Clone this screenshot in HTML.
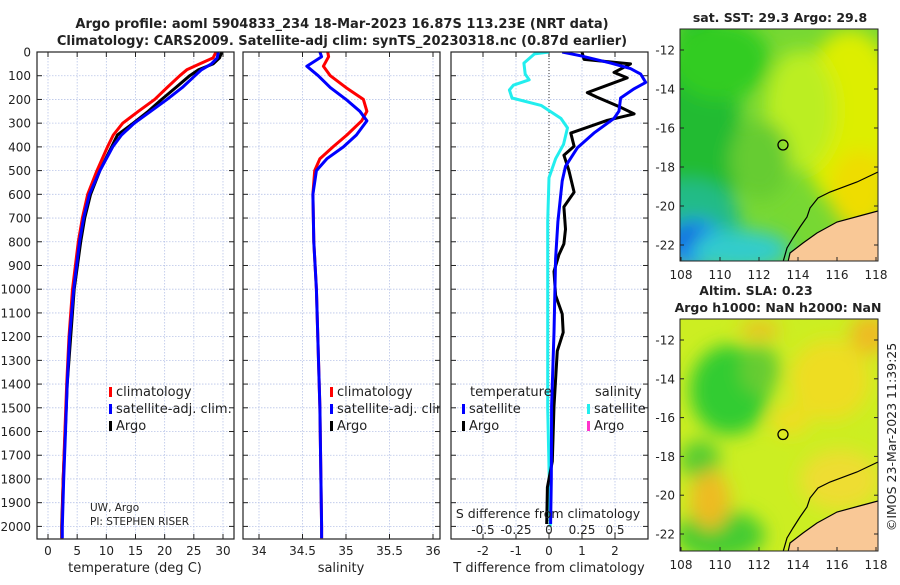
<!DOCTYPE html>
<html><head><meta charset="utf-8">
<style>
html,body{margin:0;padding:0;background:#fff;}
body{width:900px;height:580px;overflow:hidden;font-family:"Liberation Sans","DejaVu Sans",sans-serif;}
svg text{font-family:"DejaVu Sans","Liberation Sans",sans-serif;}
</style></head>
<body>
<svg id="fig" width="900" height="580" viewBox="0 0 900 580" xmlns="http://www.w3.org/2000/svg">
<defs>
<filter id="blur8" x="-50%" y="-50%" width="200%" height="200%"><feGaussianBlur stdDeviation="9"/></filter>
<clipPath id="clipTop"><rect x="680" y="29" width="198" height="232"/></clipPath>
<clipPath id="clipBot"><rect x="680" y="319" width="198" height="232"/></clipPath>
<clipPath id="c1"><rect x="37" y="52" width="197" height="487"/></clipPath>
<clipPath id="c2"><rect x="243" y="52" width="197" height="487"/></clipPath>
<clipPath id="c3"><rect x="451" y="52" width="197" height="487"/></clipPath>
</defs>
<g id="layer"></g>
</svg>
<script>
// ---- data ----
const tDepths = [0,25,50,75,100,150,200,250,300,350,400,500,600,700,800,1000,1200,1400,1600,1800,2000,2050];
const tClim = [28.8,28.3,26.0,23.8,22.6,20.4,18.3,15.5,12.8,11.2,10.2,8.4,6.8,5.9,5.2,4.2,3.6,3.2,2.9,2.6,2.4,2.4];
const tSat = [29.2,29.0,28.0,26.3,25.2,23.0,20.4,17.6,14.8,12.6,11.1,8.9,7.1,6.1,5.4,4.4,3.7,3.3,3.0,2.7,2.45,2.45];
const tArgo = [29.8,29.4,28.3,25.8,24.3,21.9,19.5,17.2,14.6,11.9,10.9,8.9,7.3,6.3,5.6,4.5,3.9,3.3,2.95,2.6,2.35,2.35];
const sDepths = [0,20,60,100,150,200,250,290,350,400,450,500,600,800,1000,1500,2000,2050];
const sClim = [34.79,34.80,34.74,34.82,35.0,35.20,35.24,35.18,35.01,34.85,34.70,34.64,34.62,34.63,34.66,34.70,34.72,34.72];
const sSat = [34.70,34.72,34.55,34.68,34.82,35.0,35.16,35.24,35.12,34.97,34.78,34.66,34.62,34.63,34.66,34.70,34.72,34.72];
const dSatDepths = [0,16,47,70,93,128,155,194,249,280,342,404,482,544,715,871,1182,1493,1804,1990];
const dTSat = [0.4,0.96,1.87,2.47,2.78,2.93,2.58,2.17,2.12,1.97,1.36,0.86,0.5,0.4,0.27,0.2,0.15,0.08,0.07,0.05];
const dArgoDepths = [0,31,50,86,109,140,171,190,233,261,288,342,397,435,498,591,653,747,809,855,925,1026,1104,1182,1260,1493,1726,1835,1990];
const dTArgo = [1.0,1.06,2.47,1.97,2.37,1.77,1.16,1.45,2.17,2.58,1.77,0.66,0.76,0.45,0.6,0.76,0.45,0.5,0.45,0.3,0.15,0.2,0.4,0.43,0.25,0.15,0.1,-0.05,-0.07];
const dSDepths = [0,8,47,93,117,140,160,194,225,280,320,390,450,530,715,1000,1500,2000];
const dSSat = [0,-0.11,-0.19,-0.18,-0.15,-0.27,-0.30,-0.28,-0.06,0.09,0.14,0.11,0.05,0,-0.01,-0.01,-0.01,0.01];
const depthTicks = [0,100,200,300,400,500,600,700,800,900,1000,1100,1200,1300,1400,1500,1600,1700,1800,1900,2000];
const tTicks = [0,5,10,15,20,25,30];
const sTicks = [34,34.5,35,35.5,36];
const sTickLabels = ["34","34.5","35","35.5","36"];
const dTTicks = [-2,-1,0,1,2];
const dSTicks = [-0.5,-0.25,0,0.25,0.5];
const dSTickLabels = ["-0.5","-0.25","0","0.25","0.5"];
const lonTicks = [108,110,112,114,116,118];
const latTicks = [-12,-14,-16,-18,-20,-22];
const argoLon = [113.23];
const argoLat = [-16.87];

// ---- axes ----
const yD = d => 52 + d*0.2372;
const x1 = t => 48 + t*5.833;
const x2 = s => 259 + (s-34)*87;
const x3 = t => 549 + t*33;
const x3s = s => 549 + s*132;
const lonX = lo => 681 + (lo-108)*19.5;
const latYt = la => 50 + (-12-la)*19.5;
const latYb = la => 340 + (-12-la)*19.4;

const NS='http://www.w3.org/2000/svg';
const layer=document.getElementById('layer');
function mk(tag, attrs, parent){const el=document.createElementNS(NS,tag);for(const k in attrs)el.setAttribute(k,attrs[k]);(parent||layer).appendChild(el);return el;}
function txt(x,y,s,size,anchor,weight,parent){const el=mk('text',{x:x,y:y,'font-size':size,'text-anchor':anchor||'start','font-weight':weight||'normal',fill:'#222'},parent);el.textContent=s;return el;}

let e;
e=txt(342,28,'Argo profile: aoml 5904833_234 18-Mar-2023 16.87S 113.23E (NRT data)',13,'middle','bold');


e=txt(342,45,'Climatology: CARS2009. Satellite-adj clim: synTS_20230318.nc (0.87d earlier)',13,'middle','bold');



const panels=[{x:37,clip:'c1',name:'temperature-panel'},{x:243,clip:'c2',name:'salinity-panel'},{x:451,clip:'c3',name:'difference-panel'}];
const PW=197, pTop=52, pBot=539;
panels.forEach((p)=>{
  const g=mk('g',{});
  
  
  p.g=g;
  depthTicks.forEach(d=>{
    const yy=yD(d);
    const gl=mk('line',{x1:p.x,x2:p.x+PW,y1:yy,y2:yy,stroke:'#b8c4e8','stroke-width':0.8,'stroke-dasharray':'1.5,1.5'},g);
    
    
    mk('line',{x1:p.x,x2:p.x+5,y1:yy,y2:yy,stroke:'#222'},g);
    mk('line',{x1:p.x+PW-5,x2:p.x+PW,y1:yy,y2:yy,stroke:'#222'},g);
  });
});
depthTicks.forEach(d=>{
  const t=txt(31,yD(d)+4.5,String(d),12,'end');
  
  
});
function xgrid(g,xs,fn,labels,ly){
  xs.forEach((v,i)=>{
    const xx=fn(v);
    const gl=mk('line',{x1:xx,x2:xx,y1:pTop,y2:pBot,stroke:'#b8c4e8','stroke-width':0.8,'stroke-dasharray':'1.5,1.5'},g);
    
    
    mk('line',{x1:xx,x2:xx,y1:pBot-5,y2:pBot,stroke:'#222'},g);
    mk('line',{x1:xx,x2:xx,y1:pTop,y2:pTop+5,stroke:'#222'},g);
    const t=txt(xx,ly,labels[i],12,'middle');
    
    
  });
}
xgrid(panels[0].g,tTicks,x1,tTicks.map(String),555);
xgrid(panels[1].g,sTicks,x2,sTickLabels,555);
xgrid(panels[2].g,dTTicks,x3,dTTicks.map(String),555);
const zl=mk('line',{x1:x3(0),x2:x3(0),y1:pTop,y2:pBot,stroke:'#333','stroke-width':1,'stroke-dasharray':'1,2'},panels[2].g);



function line(g,xs,ds,fx,color,w,name,clip){
  const pts=xs.map((v,i)=>fx(v).toFixed(1)+','+yD(ds[i]).toFixed(1)).join(' ');
  const pl=mk('polyline',{points:pts,fill:'none',stroke:color,'stroke-width':w,'stroke-linejoin':'round','clip-path':'url(#'+clip+')'},g);
  
  
}
line(panels[0].g,tArgo,tDepths,x1,'#000',3,'argo-temperature-line','c1');
line(panels[0].g,tClim,tDepths,x1,'#ff0000',3,'climatology-temperature-line','c1');
line(panels[0].g,tSat,tDepths,x1,'#0000ff',3,'satellite-temperature-line','c1');
line(panels[1].g,sClim,sDepths,x2,'#ff0000',3,'climatology-salinity-line','c2');
line(panels[1].g,sSat,sDepths,x2,'#0000ff',3,'satellite-salinity-line','c2');
line(panels[2].g,dSSat,dSDepths,x3s,'#22eeee',3,'salinity-satellite-diff-line','c3');
line(panels[2].g,dTArgo,dArgoDepths,x3,'#000',3,'temperature-argo-diff-line','c3');
line(panels[2].g,dTSat,dSatDepths,x3,'#0000ff',3,'temperature-satellite-diff-line','c3');
panels.forEach(p=>{
  const r=mk('rect',{x:p.x,y:pTop,width:PW,height:pBot-pTop,fill:'none',stroke:'#222','stroke-width':1.2},p.g);
  
  
});
dSTicks.forEach((v,i)=>{
  const t=txt(x3s(v),534,dSTickLabels[i],12,'middle',null,panels[2].g);
  
  
});
e=txt(548,518,'S difference from climatology',12.5,'middle',null,panels[2].g);


[[135,'temperature (deg C)','temperature-axis-title'],[341,'salinity','salinity-axis-title'],[549,'T difference from climatology','t-diff-axis-title']].forEach(a=>{
  const t=txt(a[0],572,a[1],13,'middle');
  
  
});
function leg(x,y,color,label,name,clip){
  const g=mk('g',clip?{'clip-path':'url(#'+clip+')'}:{});
  
  
  mk('rect',{x:x,y:y-9,width:3,height:10,fill:color},g);
  txt(x+7,y,label,13,'start',null,g);
}
leg(109,396,'#ff0000','climatology','legend-climatology');
leg(109,413,'#0000ff','satellite-adj. clim.','legend-satellite-adj');
leg(109,430,'#000','Argo','legend-argo');
leg(330,396,'#ff0000','climatology','legend2-climatology','c2');
leg(330,413,'#0000ff','satellite-adj. clim.','legend2-satellite-adj','c2');
leg(330,430,'#000','Argo','legend2-argo','c2');
e=txt(470,396,'temperature',13);


e=txt(595,396,'salinity',13);


leg(462,413,'#0000ff','satellite','legend-t-satellite');
leg(462,430,'#000','Argo','legend-t-argo');
leg(587,413,'#22eeee','satellite','legend-s-satellite');
leg(587,430,'#ff33cc','Argo','legend-s-argo');
e=txt(90,511,'UW, Argo',10.5);


e=txt(90,525,'PI: STEPHEN RISER',10.5);



function mapPanel(y0,latY,clip,name,blobs,base){
  const g=mk('g',{});
  
  
  const inner=mk('g',{'clip-path':'url(#'+clip+')'},g);
  mk('rect',{x:680,y:y0,width:198,height:232,fill:base},inner);
  const bg=mk('g',{filter:'url(#blur8)'},inner);
  blobs.forEach(b=>mk('ellipse',{cx:b[0],cy:b[1]+(y0-29),rx:b[2],ry:b[3],fill:b[4]},bg));
  const off=y0-29;
  const landPts=[[878,211],[863,215],[837,222],[817,233],[803,243],[790,253],[788,262]];
  const land=mk('polygon',{points:landPts.concat([[878,262]]).map(p=>p[0]+','+(p[1]+off)).join(' '),fill:'#f9c896'},inner);
  
  
  mk('polyline',{points:landPts.map(p=>p[0]+','+(p[1]+off)).join(' '),fill:'none',stroke:'#000','stroke-width':1.2},inner);
  const coast=mk('polyline',{points:[[878,172],[857,182],[830,192],[818,198],[810,208],[807,217],[800,227],[793,238],[787,248],[783,262]].map(p=>p[0]+','+(p[1]+off)).join(' '),fill:'none',stroke:'#000','stroke-width':1.2},inner);
  
  
  mk('rect',{x:680,y:y0,width:198,height:232,fill:'none',stroke:'#222','stroke-width':1},g);
  lonTicks.forEach(lo=>{
    const xx=lonX(lo);
    mk('line',{x1:xx,x2:xx,y1:y0+232,y2:y0+228,stroke:'#222'},g);
    const t=txt(xx,y0+250,String(lo),12,'middle',null,g);
    
    
  });
  latTicks.forEach(la=>{
    const yy=latY(la);
    mk('line',{x1:680,x2:684,y1:yy,y2:yy,stroke:'#222'},g);
    mk('line',{x1:874,x2:878,y1:yy,y2:yy,stroke:'#222'},g);
    const t=txt(675,yy+4.5,String(la),12,'end',null,g);
    
    
  });
  argoLon.forEach((lo,i)=>{
    const c=mk('circle',{cx:lonX(lo),cy:latY(argoLat[i]),r:5,fill:'none',stroke:'#000','stroke-width':1.3},g);
    
    
  });
  return g;
}
mapPanel(29,latYt,'clipTop','sst-map',[
  [700,130,40,120,'#22bb33'],[690,220,50,40,'#22bb88'],[695,245,30,25,'#1e90ff'],[690,240,18,15,'#1060e0'],[740,250,50,20,'#33cccc'],
  [720,60,50,40,'#33cc22'],[850,120,50,90,'#ddee00'],[860,190,30,40,'#eedd00'],[800,110,35,60,'#bbee22'],[760,160,30,40,'#66cc33']
],'#77d833');
mapPanel(319,latYb,'clipBot','sla-map',[
  [730,100,40,45,'#33cc33'],[700,170,20,20,'#55cc33'],[720,245,45,25,'#44cc33'],[760,80,20,25,'#66cc33'],
  [710,210,20,30,'#eebb22'],[830,90,40,40,'#eedd22'],[870,45,20,20,'#eebb22'],[760,40,20,8,'#eebb22'],[790,130,20,15,'#eedd22'],[840,190,40,30,'#eedd33']
],'#ccee22');
e=txt(780,22,'sat. SST: 29.3 Argo: 29.8',12.5,'middle','bold');


e=txt(756,295,'Altim. SLA: 0.23',12.5,'middle','bold');


e=txt(778,312,'Argo h1000: NaN h2000: NaN',12.5,'middle','bold');


e=txt(0,0,'©IMOS 23-Mar-2023 11:39:25',12.5,'middle');
e.setAttribute('transform','translate(896,437) rotate(-90)');


</script>
</body></html>
